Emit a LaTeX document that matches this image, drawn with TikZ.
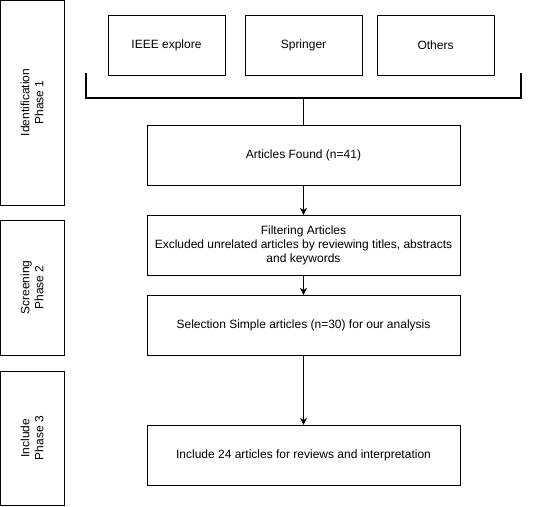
\documentclass[tikz,border=0pt]{standalone}
\usepackage{fontspec}
\setmainfont{Liberation Sans}
\usepackage{tikz}
\usetikzlibrary{arrows.meta, positioning}

\begin{document}
\begin{tikzpicture}[
  x=1pt, y=-1pt,
  every node/.style={font=\fontsize{12}{14}\selectfont},
  phase/.style={draw, rectangle, rotate=90, minimum width=#1, minimum height=64pt, align=center, inner sep=0pt},
  source/.style={draw, rectangle, minimum width=117pt, minimum height=60pt},
  stage/.style={draw, rectangle, minimum width=313pt, minimum height=60pt, align=center, inner sep=2pt},
  arr/.style={-{Stealth[length=7pt, width=7pt]}, line width=0.9pt},
  bracket/.style={line width=2pt}
]
\useasboundingbox (0,0) rectangle (535,506);

% Phases
\node[phase=205pt] (phaseone) at (32, 102.5) {Identification\\Phase 1};
\node[phase=135pt] (phasetwo) at (32, 287.5) {Screening\\Phase 2};
\node[phase=134pt] (phasethree) at (32, 438) {Include\\Phase 3};

% Sources
\node[source] (ieee) at (166.5, 45) {IEEE explore};
\node[source] (springer) at (303.5, 45) {Springer};
\node[source] (others) at (435.5, 45) {Others};

% Stages
\node[stage] (found) at (303.5, 155) {Articles Found (n=41)};
\node[stage] (filter) at (303.5, 245) {Filtering Articles\\Excluded unrelated articles by reviewing titles, abstracts\\and keywords};
\node[stage] (select) at (303.5, 325) {Selection Simple articles (n=30) for our analysis};
\node[stage] (include) at (303.5, 455) {Include 24 articles for reviews and interpretation};

% Bracket
\coordinate (bleft) at (86, 73);
\coordinate (bright) at (521, 73);
\coordinate (bmid) at (303.5, 98);
\draw[bracket] (bleft) -- ++(0,25) -| (bright);
\draw[line width=1pt] (bmid) -- (found.north);

% Arrows
\draw[arr] (found) -- (filter);
\draw[arr] (filter) -- (select);
\draw[arr] (select) -- (include);

\end{tikzpicture}
\end{document}
